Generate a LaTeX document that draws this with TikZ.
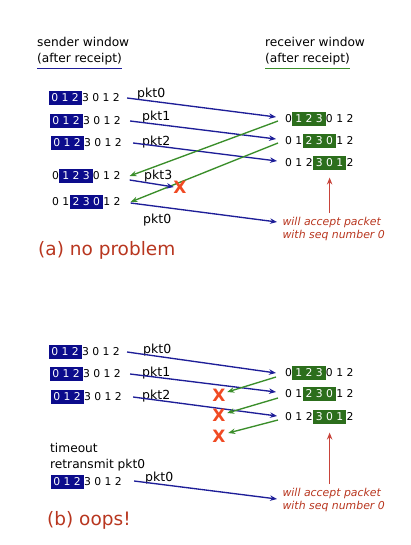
\documentclass[tikz,border=0pt]{standalone}
\usepackage{fontspec}
\setmainfont{DejaVu Sans}
\usetikzlibrary{arrows.meta}
\definecolor{bl}{HTML}{1E1E98}
\definecolor{bbx}{HTML}{0C0C8C}
\definecolor{gl}{HTML}{3A8E2A}
\definecolor{gbx}{HTML}{2C6E1C}
\definecolor{redt}{HTML}{B8361F}
\definecolor{xred}{HTML}{F04A23}
\definecolor{rarr}{HTML}{C8433A}
\newcommand{\wrow}[7]{%
  \node[digits, anchor=west] (#1p) at (#2,#3) {#4};
  \node[#7, anchor=west] (#1b) at (#1p.east) {#5};
  \node[digits, anchor=west] (#1a) at (#1b.east) {#6};
}
\begin{document}
\begin{tikzpicture}[x=1pt,y=-1pt,
  digits/.style={inner sep=0pt, font=\fontsize{10.8}{12}\selectfont, text height=7.9pt, text depth=0pt},
  bbox/.style={digits, fill=bbx, text=white, inner xsep=2.8pt, inner ysep=3.4pt},
  gbox/.style={digits, fill=gbx, text=white, inner xsep=2.8pt, inner ysep=3.4pt},
  lbl/.style={inner sep=0pt, font=\fontsize{12.5}{14}\selectfont},
  ttl/.style={inner sep=0pt, font=\fontsize{12.2}{14}\selectfont},
  big/.style={inner sep=0pt, font=\fontsize{18.5}{20}\selectfont, text=redt},
  ann/.style={font=\fontsize{10.9}{13}\selectfont\itshape, text=redt},
  xmark/.style={inner sep=0.5pt, font=\fontsize{17}{18}\selectfont\bfseries, text=xred},
  pktb/.style={draw=bl, line width=1.35pt, -{Stealth[length=7pt,width=5.5pt]}},
  ackg/.style={draw=gl, line width=1.35pt, -{Stealth[length=7pt,width=5.5pt]}},
  redarr/.style={draw=rarr, line width=1.2pt, -{Stealth[length=7pt,width=5.5pt]}}]
\useasboundingbox (0,0) rectangle (410,545);

% titles
\node[ttl, anchor=base west] (sw1) at (37,47) {sender window};
\node[ttl, anchor=base west] (sw2) at (37,63) {(after receipt)};
\draw[bl, line width=1.4pt] ([yshift=-2.5pt]sw2.south west) -- ([yshift=-2.5pt]sw2.south east);
\node[ttl, anchor=base west] (rw1) at (265,47) {receiver window};
\node[ttl, anchor=base west] (rw2) at (265,63) {(after receipt)};
\draw[gl, line width=1.4pt] ([yshift=-2.5pt]rw2.south west) -- ([yshift=-2.5pt]rw2.south east);

% ---------- (a) ----------
\wrow{s1}{47}{98}{}{0 1 2}{3 0 1 2}{bbox}
\wrow{s2}{48}{121}{}{0 1 2}{3 0 1 2}{bbox}
\wrow{s3}{49}{143}{}{0 1 2}{3 0 1 2}{bbox}
\wrow{s4}{52}{176}{0}{1 2 3}{0 1 2}{bbox}
\wrow{s5}{52}{202}{0 1}{2 3 0}{1 2}{bbox}
\wrow{r1}{285}{119}{0}{1 2 3}{0 1 2}{gbox}
\wrow{r2}{285}{141}{0 1}{2 3 0}{1 2}{gbox}
\wrow{r3}{285}{163}{0 1 2}{3 0 1}{2}{gbox}

\node[lbl, anchor=base west] (la1) at (137,98) {pkt0};
\node[lbl, anchor=base west] (la2) at (142,121) {pkt1};
\node[lbl, anchor=base west] (la3) at (142,146) {pkt2};
\node[lbl, anchor=base west] (la4) at (144,180) {pkt3};
\node[lbl, anchor=base west] (la5) at (143,223) {pkt0};

\draw[pktb] ([xshift=7pt]s1a.east) -- ([xshift=-9pt,yshift=2pt]r1p.west);
\draw[pktb] ([xshift=9pt]s2a.east) -- ([xshift=-9pt,yshift=2pt]r2p.west);
\draw[pktb] ([xshift=11pt]s3a.east) -- ([xshift=-8pt,yshift=2pt]r3p.west);
\draw[ackg] ([xshift=-7pt,yshift=-2pt]r1p.west) -- ([xshift=9pt]s4a.east);
\draw[ackg] ([xshift=-7pt,yshift=-2pt]r2p.west) -- ([xshift=10pt]s5a.east);

\node[xmark] (x1) at (180,187) {X};
\draw[pktb] ([xshift=9pt,yshift=-4pt]s4a.east) -- ([xshift=1pt]x1.west);
\draw[pktb] ([xshift=10pt,yshift=-1pt]s5a.east) -- (277,222) coordinate (e1);

\node[ann, anchor=base west] (n1) at (279,225) {will accept packet};
\node[ann, anchor=base west] (n2) at (279,238) {with seq number 0};
\draw[redarr] (r3b.south |- n1.north) -- ([yshift=-7pt]r3b.south);

\node[big, anchor=base west] (ta) at (38,255) {(a) no problem};

% ---------- (b) ----------
\wrow{b1}{47}{352}{}{0 1 2}{3 0 1 2}{bbox}
\wrow{b2}{48}{374}{}{0 1 2}{3 0 1 2}{bbox}
\wrow{b3}{49}{397}{}{0 1 2}{3 0 1 2}{bbox}
\wrow{b4}{49}{482}{}{0 1 2}{3 0 1 2}{bbox}
\wrow{c1}{285}{373}{0}{1 2 3}{0 1 2}{gbox}
\wrow{c2}{285}{394}{0 1}{2 3 0}{1 2}{gbox}
\wrow{c3}{285}{417}{0 1 2}{3 0 1}{2}{gbox}

\node[lbl, anchor=base west] (lb1) at (143,353) {pkt0};
\node[lbl, anchor=base west] (lb2) at (142,376) {pkt1};
\node[lbl, anchor=base west] (lb3) at (142,399) {pkt2};
\node[lbl, anchor=base west] (lb4) at (145,481) {pkt0};

\draw[pktb] ([xshift=7pt]b1a.east) -- ([xshift=-9pt]c1p.west);
\draw[pktb] ([xshift=9pt]b2a.east) -- ([xshift=-9pt,yshift=2pt]c2p.west);
\draw[pktb] ([xshift=11pt]b3a.east) -- ([xshift=-8pt,yshift=1pt]c3p.west);

\node[xmark] (x2) at (219,395) {X};
\node[xmark] (x3) at (219,415) {X};
\node[xmark] (x4) at (219,436) {X};
\draw[ackg] ([xshift=-9pt,yshift=-4pt]c1p.west) -- ([xshift=1pt,yshift=3pt]x2.east);
\draw[ackg] ([xshift=-7pt,yshift=-4pt]c2p.west) -- ([xshift=1pt,yshift=2pt]x3.east);
\draw[ackg] ([xshift=-7pt,yshift=-3pt]c3p.west) -- ([xshift=2pt,yshift=3pt]x4.east);

\node[ttl, anchor=base west] (tm1) at (50,452) {timeout};
\node[ttl, anchor=base west] (tm2) at (50,468) {retransmit pkt0};
\draw[pktb] ([xshift=12pt,yshift=1pt]b4a.east) -- (277,499) coordinate (e2);

\node[ann, anchor=base west] (n3) at (279,496) {will accept packet};
\node[ann, anchor=base west] (n4) at (279,509) {with seq number 0};
\draw[redarr] (c3b.south |- n3.north) -- ([yshift=-8pt]c3b.south);

\node[big, anchor=base west] (tb) at (47,525) {(b) oops!};
\end{tikzpicture}
\end{document}
